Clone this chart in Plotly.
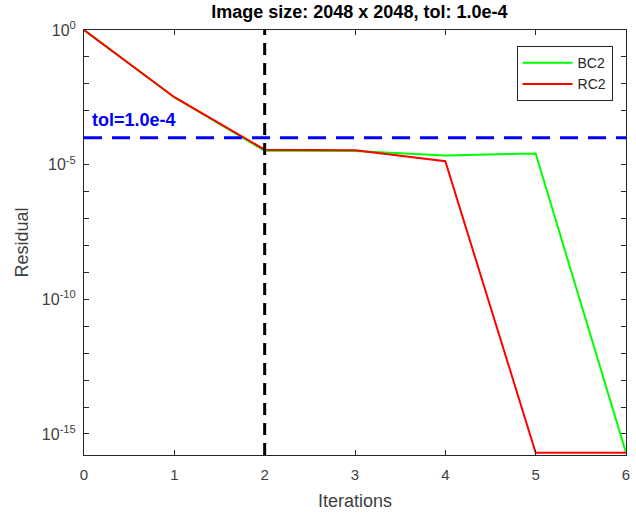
import plotly.graph_objects as go

iterations = [0, 1, 2, 3, 4, 5, 6]
bc2 = [1.0, 3.2e-3, 3.3e-5, 3.2e-5, 2.2e-5, 2.6e-5, 2.0e-16]
rc2 = [1.0, 3.2e-3, 3.6e-5, 3.4e-5, 1.35e-5, 2.0e-16, 2.0e-16]
tol = 1.0e-4
stop_iter = 2

decades = list(range(-15, 1))
tick_text = [("10<sup>%d</sup>" % d) if d % 5 == 0 else " " for d in decades]

FONT = "Liberation Sans, Arial, Helvetica, sans-serif"

fig = go.Figure()
fig.add_trace(go.Scatter(x=iterations, y=bc2, mode="lines", name="BC2",
                         line=dict(color="#00ff00", width=2)))
fig.add_trace(go.Scatter(x=iterations, y=rc2, mode="lines", name="RC2",
                         line=dict(color="#ff0000", width=2)))

fig.add_shape(type="line", xref="paper", yref="y", x0=0, x1=1, y0=tol, y1=tol,
              line=dict(color="#0000ff", width=3, dash="18px,10px"))
fig.add_shape(type="line", xref="x", yref="paper", x0=stop_iter, x1=stop_iter, y0=0, y1=1,
              line=dict(color="#000000", width=3, dash="12px,8px"))

fig.add_annotation(x=0.07, y=-3.35, xref="x", yref="y", text="<b>tol=1.0e-4</b>",
                   showarrow=False, xanchor="left", yanchor="middle",
                   font=dict(color="#0000ff", size=18, family=FONT))

fig.update_layout(
    width=636, height=516,
    margin=dict(l=84, r=6, t=30, b=61),
    paper_bgcolor="white", plot_bgcolor="white",
    font=dict(family=FONT, size=15, color="#404040"),
    title=dict(text="<b>Image size: 2048 x 2048, tol: 1.0e-4</b>", x=0.565, xanchor="center",
               y=0.977, yanchor="middle", font=dict(size=18, color="#000000")),
    showlegend=True,
    legend=dict(x=0.798, y=0.962, xanchor="left", yanchor="top",
                bgcolor="white", bordercolor="#262626", borderwidth=1, itemwidth=50,
                font=dict(size=14, color="#262626"), tracegroupgap=0),
)
fig.update_xaxes(range=[0, 6], tickvals=iterations, ticks="inside", ticklen=5,
                 showline=True, linecolor="#262626", linewidth=1, mirror="ticks",
                 showgrid=False, zeroline=False, tickcolor="#262626", ticklabelstandoff=6,
                 title=dict(text="Iterations", font=dict(size=18, color="#404040"), standoff=12))
fig.update_yaxes(type="log", range=[-15.78, 0], tickvals=[10.0 ** d for d in decades],
                 ticktext=tick_text, ticks="inside", ticklen=5, tickfont=dict(size=16),
                 showline=True, linecolor="#262626", linewidth=1, mirror="ticks",
                 showgrid=False, zeroline=False, tickcolor="#262626", ticklabelstandoff=4,
                 title=dict(text="Residual", font=dict(size=18, color="#404040"), standoff=8))

fig.write_html("out.html", config={"displayModeBar": False},
               post_script="document.body.style.margin='0';")
